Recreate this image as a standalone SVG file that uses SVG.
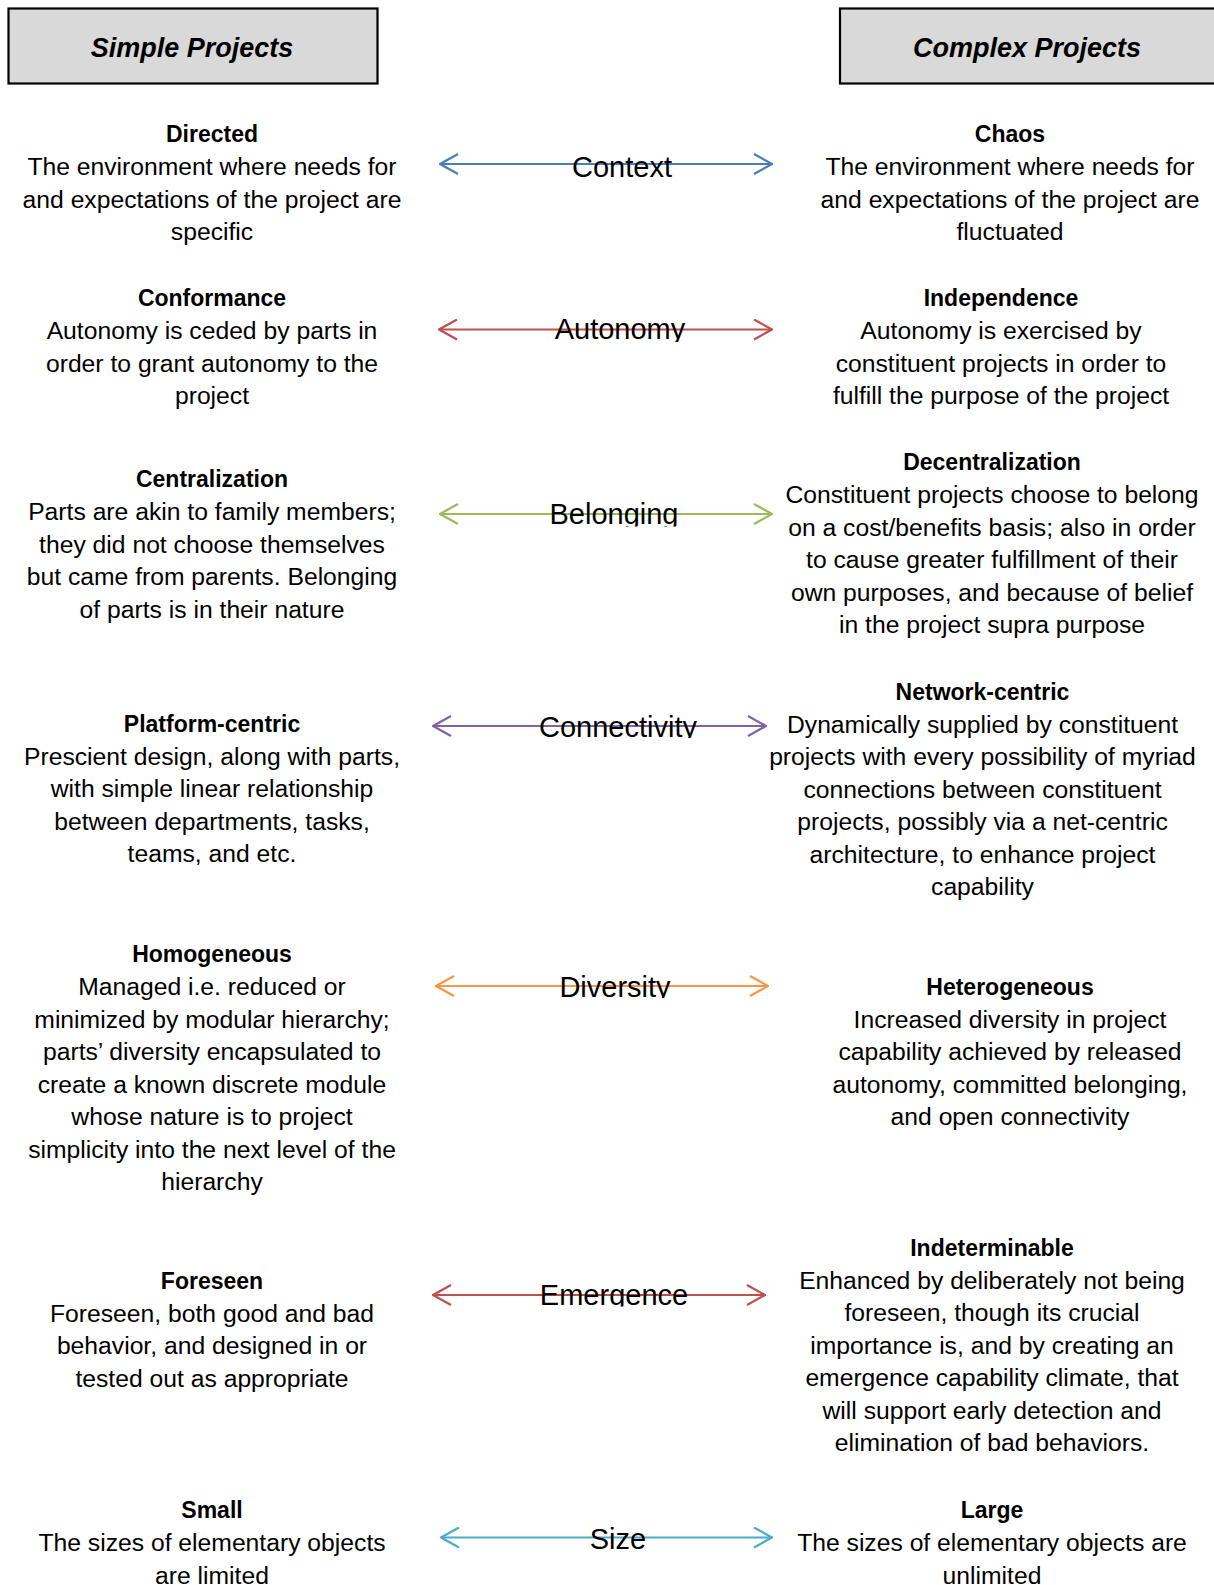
<svg xmlns="http://www.w3.org/2000/svg" width="1214" height="1585" viewBox="0 0 1214 1585">
  <style>
    .hdr { fill: #d9d9d9; stroke: #000; stroke-width: 2.2; }
    .hdr-t { font-family: "Liberation Sans", Arial, sans-serif; font-size: 27px; font-weight: bold; font-style: italic; text-anchor: middle; fill: #000; }
    .t { font-family: "Liberation Sans", Arial, sans-serif; font-size: 23px; font-weight: bold; text-anchor: middle; fill: #000; }
    .b { font-family: "Liberation Sans", Arial, sans-serif; font-size: 24.7px; text-anchor: middle; fill: #000; }
    .lbl { font-family: "Liberation Sans", Arial, sans-serif; font-size: 29px; text-anchor: middle; fill: #000; }
    .ln { fill: none; stroke-width: 2.2; }
  </style>
  <defs>
    <marker id="ah-blue" viewBox="-1 -1 20 22" refX="18" refY="10" markerWidth="20" markerHeight="22" markerUnits="userSpaceOnUse" orient="auto-start-reverse">
      <path d="M0,0 L18,10 L0,20" fill="none" stroke="#4a7ebb" stroke-width="2.2"/>
    </marker>
    <marker id="ah-red" viewBox="-1 -1 20 22" refX="18" refY="10" markerWidth="20" markerHeight="22" markerUnits="userSpaceOnUse" orient="auto-start-reverse">
      <path d="M0,0 L18,10 L0,20" fill="none" stroke="#c0504d" stroke-width="2.2"/>
    </marker>
    <marker id="ah-green" viewBox="-1 -1 20 22" refX="18" refY="10" markerWidth="20" markerHeight="22" markerUnits="userSpaceOnUse" orient="auto-start-reverse">
      <path d="M0,0 L18,10 L0,20" fill="none" stroke="#9bbb59" stroke-width="2.2"/>
    </marker>
    <marker id="ah-purple" viewBox="-1 -1 20 22" refX="18" refY="10" markerWidth="20" markerHeight="22" markerUnits="userSpaceOnUse" orient="auto-start-reverse">
      <path d="M0,0 L18,10 L0,20" fill="none" stroke="#8064a2" stroke-width="2.2"/>
    </marker>
    <marker id="ah-orange" viewBox="-1 -1 20 22" refX="18" refY="10" markerWidth="20" markerHeight="22" markerUnits="userSpaceOnUse" orient="auto-start-reverse">
      <path d="M0,0 L18,10 L0,20" fill="none" stroke="#f79646" stroke-width="2.2"/>
    </marker>
    <marker id="ah-cyan" viewBox="-1 -1 20 22" refX="18" refY="10" markerWidth="20" markerHeight="22" markerUnits="userSpaceOnUse" orient="auto-start-reverse">
      <path d="M0,0 L18,10 L0,20" fill="none" stroke="#4bacc6" stroke-width="2.2"/>
    </marker>
    <!-- label text boxes crop the descenders -->
    <clipPath id="clip-autonomy"><rect x="500" y="300" width="240" height="42"/></clipPath>
    <clipPath id="clip-belonging"><rect x="500" y="485" width="240" height="41.5"/></clipPath>
    <clipPath id="clip-connectivity"><rect x="500" y="690" width="240" height="48"/></clipPath>
    <clipPath id="clip-diversity"><rect x="500" y="955" width="240" height="43"/></clipPath>
    <clipPath id="clip-emergence"><rect x="500" y="1265" width="240" height="41.5"/></clipPath>
  </defs>

  <rect width="1214" height="1585" fill="#fff"/>

  <!-- column headers -->
  <g id="hdr-simple">
    <rect class="hdr" x="8.5" y="8.5" width="369" height="75"/>
    <text class="hdr-t" x="192" y="57">Simple Projects</text>
  </g>
  <g id="hdr-complex">
    <rect class="hdr" x="840" y="8.5" width="380" height="75"/>
    <text class="hdr-t" x="1027" y="57">Complex Projects</text>
  </g>

  <!-- simple-project nodes -->
  <g id="directed">
    <text class="t" x="212" y="142">Directed</text>
    <text class="b" x="212" y="175">The environment where needs for</text>
    <text class="b" x="212" y="207.5">and expectations of the project are</text>
    <text class="b" x="212" y="240">specific</text>
  </g>
  <g id="conformance">
    <text class="t" x="212" y="306">Conformance</text>
    <text class="b" x="212" y="339">Autonomy is ceded by parts in</text>
    <text class="b" x="212" y="371.5">order to grant autonomy to the</text>
    <text class="b" x="212" y="404">project</text>
  </g>
  <g id="centralization">
    <text class="t" x="212" y="487">Centralization</text>
    <text class="b" x="212" y="520">Parts are akin to family members;</text>
    <text class="b" x="212" y="552.5">they did not choose themselves</text>
    <text class="b" x="212" y="585">but came from parents. Belonging</text>
    <text class="b" x="212" y="617.5">of parts is in their nature</text>
  </g>
  <g id="platform-centric">
    <text class="t" x="212" y="731.5">Platform-centric</text>
    <text class="b" x="212" y="764.5">Prescient design, along with parts,</text>
    <text class="b" x="212" y="797">with simple linear relationship</text>
    <text class="b" x="212" y="829.5">between departments, tasks,</text>
    <text class="b" x="212" y="862">teams, and etc.</text>
  </g>
  <g id="homogeneous">
    <text class="t" x="212" y="962">Homogeneous</text>
    <text class="b" x="212" y="995">Managed i.e. reduced or</text>
    <text class="b" x="212" y="1027.5">minimized by modular hierarchy;</text>
    <text class="b" x="212" y="1060">parts’ diversity encapsulated to</text>
    <text class="b" x="212" y="1092.5">create a known discrete module</text>
    <text class="b" x="212" y="1125">whose nature is to project</text>
    <text class="b" x="212" y="1157.5">simplicity into the next level of the</text>
    <text class="b" x="212" y="1190">hierarchy</text>
  </g>
  <g id="foreseen">
    <text class="t" x="212" y="1288.5">Foreseen</text>
    <text class="b" x="212" y="1321.5">Foreseen, both good and bad</text>
    <text class="b" x="212" y="1354">behavior, and designed in or</text>
    <text class="b" x="212" y="1386.5">tested out as appropriate</text>
  </g>
  <g id="small">
    <text class="t" x="212" y="1518">Small</text>
    <text class="b" x="212" y="1551">The sizes of elementary objects</text>
    <text class="b" x="212" y="1583.5">are limited</text>
  </g>

  <!-- complex-project nodes -->
  <g id="chaos">
    <text class="t" x="1010" y="142">Chaos</text>
    <text class="b" x="1010" y="175">The environment where needs for</text>
    <text class="b" x="1010" y="207.5">and expectations of the project are</text>
    <text class="b" x="1010" y="240">fluctuated</text>
  </g>
  <g id="independence">
    <text class="t" x="1001" y="306">Independence</text>
    <text class="b" x="1001" y="339">Autonomy is exercised by</text>
    <text class="b" x="1001" y="371.5">constituent projects in order to</text>
    <text class="b" x="1001" y="404">fulfill the purpose of the project</text>
  </g>
  <g id="decentralization">
    <text class="t" x="992" y="470">Decentralization</text>
    <text class="b" x="992" y="503">Constituent projects choose to belong</text>
    <text class="b" x="992" y="535.5">on a cost/benefits basis; also in order</text>
    <text class="b" x="992" y="568">to cause greater fulfillment of their</text>
    <text class="b" x="992" y="600.5">own purposes, and because of belief</text>
    <text class="b" x="992" y="633">in the project supra purpose</text>
  </g>
  <g id="network-centric">
    <text class="t" x="982.5" y="699.5">Network-centric</text>
    <text class="b" x="982.5" y="732.5">Dynamically supplied by constituent</text>
    <text class="b" x="982.5" y="765">projects with every possibility of myriad</text>
    <text class="b" x="982.5" y="797.5">connections between constituent</text>
    <text class="b" x="982.5" y="830">projects, possibly via a net-centric</text>
    <text class="b" x="982.5" y="862.5">architecture, to enhance project</text>
    <text class="b" x="982.5" y="895">capability</text>
  </g>
  <g id="heterogeneous">
    <text class="t" x="1010" y="994.5">Heterogeneous</text>
    <text class="b" x="1010" y="1027.5">Increased diversity in project</text>
    <text class="b" x="1010" y="1060">capability achieved by released</text>
    <text class="b" x="1010" y="1092.5">autonomy, committed belonging,</text>
    <text class="b" x="1010" y="1125">and open connectivity</text>
  </g>
  <g id="indeterminable">
    <text class="t" x="992" y="1255.5">Indeterminable</text>
    <text class="b" x="992" y="1288.5">Enhanced by deliberately not being</text>
    <text class="b" x="992" y="1321">foreseen, though its crucial</text>
    <text class="b" x="992" y="1353.5">importance is, and by creating an</text>
    <text class="b" x="992" y="1386">emergence capability climate, that</text>
    <text class="b" x="992" y="1418.5">will support early detection and</text>
    <text class="b" x="992" y="1451">elimination of bad behaviors.</text>
  </g>
  <g id="large">
    <text class="t" x="992" y="1518">Large</text>
    <text class="b" x="992" y="1551">The sizes of elementary objects are</text>
    <text class="b" x="992" y="1583.5">unlimited</text>
  </g>

  <!-- double-headed connectors with their labels -->
  <g id="connectors">
    <g id="conn-context">
      <path class="ln" d="M440,164 H772" stroke="#4a7ebb" marker-start="url(#ah-blue)" marker-end="url(#ah-blue)"/>
      <text class="lbl" x="622" y="176.5">Context</text>
    </g>
    <g id="conn-autonomy">
      <path class="ln" d="M439,329.5 H772" stroke="#c0504d" marker-start="url(#ah-red)" marker-end="url(#ah-red)"/>
      <text class="lbl" x="620" y="339" clip-path="url(#clip-autonomy)">Autonomy</text>
    </g>
    <g id="conn-belonging">
      <path class="ln" d="M440,514 H772" stroke="#9bbb59" marker-start="url(#ah-green)" marker-end="url(#ah-green)"/>
      <text class="lbl" x="614" y="524" clip-path="url(#clip-belonging)">Belonging</text>
    </g>
    <g id="conn-connectivity">
      <path class="ln" d="M433,726 H766" stroke="#8064a2" marker-start="url(#ah-purple)" marker-end="url(#ah-purple)"/>
      <text class="lbl" x="618" y="736.5" clip-path="url(#clip-connectivity)">Connectivity</text>
    </g>
    <g id="conn-diversity">
      <path class="ln" d="M436,986 H768" stroke="#f79646" marker-start="url(#ah-orange)" marker-end="url(#ah-orange)"/>
      <text class="lbl" x="615" y="996.5" clip-path="url(#clip-diversity)">Diversity</text>
    </g>
    <g id="conn-emergence">
      <path class="ln" d="M433,1295 H765" stroke="#c0504d" marker-start="url(#ah-red)" marker-end="url(#ah-red)"/>
      <text class="lbl" x="614" y="1305" clip-path="url(#clip-emergence)">Emergence</text>
    </g>
    <g id="conn-size">
      <path class="ln" d="M441,1537.5 H772" stroke="#4bacc6" marker-start="url(#ah-cyan)" marker-end="url(#ah-cyan)"/>
      <text class="lbl" x="618" y="1548.5">Size</text>
    </g>
  </g>
</svg>
